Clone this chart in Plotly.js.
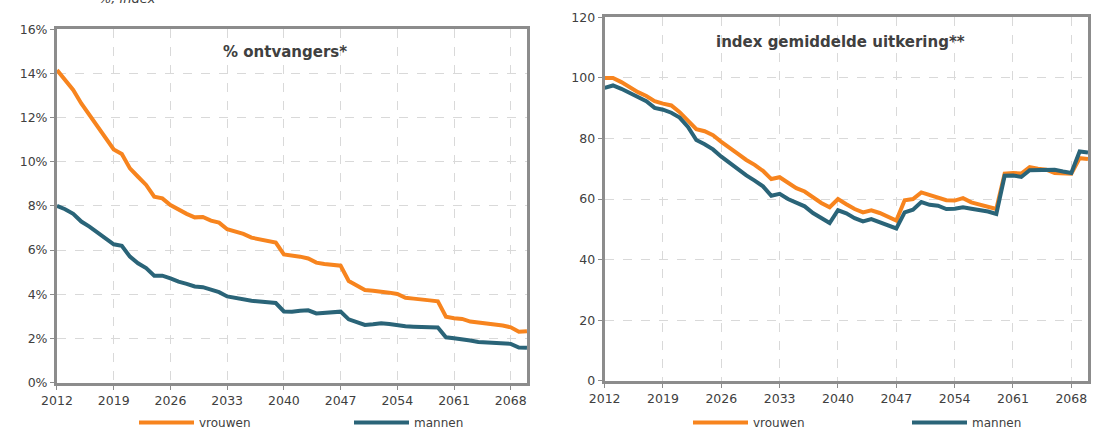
<!DOCTYPE html>
<html>
<head>
<meta charset="utf-8">
<script src="https://cdn.plot.ly/plotly-3.0.1.min.js"></script>
<style>html,body{margin:0;padding:0;background:#fff;}#chart{width:1094px;height:437px;}</style>
</head>
<body>
<div id="chart"></div>
<script>
// Years 2012..2070
var years = [];
for (var yr = 2012; yr <= 2070; yr++) years.push(yr);

var tickYears = [2012, 2019, 2026, 2033, 2040, 2047, 2054, 2061, 2068];

// % ontvangers*
var ontvVrouwen = [14.15, 13.7, 13.25, 12.64, 12.1, 11.6, 11.06, 10.56, 10.35, 9.7,
  9.32, 8.95, 8.42, 8.34, 8.04, 7.82, 7.64, 7.48, 7.5, 7.33,
  7.24, 6.94, 6.84, 6.73, 6.56, 6.49, 6.41, 6.34, 5.8, 5.77,
  5.7, 5.62, 5.43, 5.37, 5.35, 5.29, 4.6, 4.42, 4.19, 4.16,
  4.13, 4.07, 4.01, 3.84, 3.8, 3.74, 3.72, 3.68, 2.98, 2.91,
  2.88, 2.76, 2.72, 2.65, 2.6, 2.58, 2.5, 2.3, 2.32];
var ontvMannen = [8.0, 7.85, 7.64, 7.29, 7.06, 6.79, 6.5, 6.26, 6.19, 5.7,
  5.4, 5.18, 4.84, 4.84, 4.72, 4.57, 4.47, 4.35, 4.32, 4.2,
  4.09, 3.9, 3.82, 3.77, 3.7, 3.67, 3.62, 3.6, 3.22, 3.21,
  3.25, 3.27, 3.13, 3.16, 3.16, 3.21, 2.86, 2.73, 2.61, 2.64,
  2.68, 2.65, 2.59, 2.55, 2.53, 2.5, 2.5, 2.49, 2.05, 2.0,
  1.97, 1.9, 1.84, 1.81, 1.78, 1.76, 1.75, 1.58, 1.57];

// index gemiddelde uitkering**
var indexVrouwen = [100, 100, 98.6, 96.9, 95.3, 94.0, 92.3, 91.5, 90.9, 88.7,
  86.0, 83.1, 82.4, 81.1, 78.9, 76.7, 74.9, 72.9, 71.3, 69.3,
  66.6, 67.2, 65.5, 63.6, 62.5, 60.5, 58.7, 57.3, 60.0, 58.3,
  56.7, 55.6, 56.3, 55.4, 54.1, 52.9, 59.6, 60.0, 62.2, 61.4,
  60.5, 59.6, 59.5, 60.3, 58.9, 58.1, 57.6, 56.7, 68.4, 68.6,
  68.4, 70.5, 70.0, 69.7, 68.6, 68.4, 68.4, 73.5, 73.2];
var indexMannen = [96.7, 97.5, 96.4, 95.1, 93.7, 92.3, 90.1, 89.5, 88.5, 86.9,
  83.8, 79.5, 78.1, 76.4, 74.0, 71.8, 69.6, 67.8, 66.1, 64.2,
  61.1, 61.7, 60.0, 58.7, 57.6, 55.4, 53.8, 52.1, 56.3, 55.3,
  53.7, 52.6, 53.4, 52.4, 51.4, 50.3, 55.6, 56.5, 59.0, 58.1,
  57.8, 56.7, 56.8, 57.3, 56.8, 56.5, 55.9, 55.1, 67.7, 67.8,
  67.3, 69.5, 69.5, 69.7, 69.7, 69.1, 68.6, 75.7, 75.4];

var leftTickVals = [0, 2, 4, 6, 8, 10, 12, 14, 16];
var leftTickText = ['0%', '2%', '4%', '6%', '8%', '10%', '12%', '14%', '16%'];

var seriesNames = ['vrouwen', 'mannen'];
var colOrange = '#f7841e';
var colBlue = '#2a6478';
var fontFam = '"DejaVu Sans", Verdana, sans-serif';
var txtCol = '#404040';

var traces = [
  {x: years, y: ontvVrouwen, name: seriesNames[0], type: 'scatter', mode: 'lines',
   line: {color: colOrange, width: 4}, xaxis: 'x', yaxis: 'y', legend: 'legend'},
  {x: years, y: ontvMannen, name: seriesNames[1], type: 'scatter', mode: 'lines',
   line: {color: colBlue, width: 4}, xaxis: 'x', yaxis: 'y', legend: 'legend2'},
  {x: years, y: indexVrouwen, name: seriesNames[0], type: 'scatter', mode: 'lines',
   line: {color: colOrange, width: 4}, xaxis: 'x2', yaxis: 'y2', legend: 'legend3'},
  {x: years, y: indexMannen, name: seriesNames[1], type: 'scatter', mode: 'lines',
   line: {color: colBlue, width: 4}, xaxis: 'x2', yaxis: 'y2', legend: 'legend4'}
];

function xAx(domain, anchor) {
  return {
    domain: domain, anchor: anchor, range: [2012, 2070],
    tickvals: tickYears, ticktext: tickYears.map(String),
    showline: true, linecolor: '#8c8c8c', linewidth: 3, mirror: true,
    ticks: 'outside', ticklen: 4, tickcolor: '#8c8c8c', tickwidth: 1,
    showgrid: true, gridcolor: '#d9d9d9', griddash: 'dash', gridwidth: 1,
    zeroline: false,
    tickfont: {family: fontFam, size: 12.5, color: txtCol}
  };
}
function yAx(domain, anchor) {
  return {
    domain: domain, anchor: anchor,
    showline: true, linecolor: '#8c8c8c', linewidth: 3, mirror: true,
    ticks: 'outside', ticklen: 4, tickcolor: '#8c8c8c', tickwidth: 1,
    showgrid: true, gridcolor: '#d9d9d9', griddash: 'dash', gridwidth: 1,
    zeroline: false,
    tickfont: {family: fontFam, size: 12.5, color: txtCol}
  };
}

var xa1 = xAx([0.0521, 0.4817], 'y');
var ya1 = yAx([0.1247, 0.933], 'x');
ya1.range = [0, 16]; ya1.tickvals = leftTickVals; ya1.ticktext = leftTickText;
var xa2 = xAx([0.5527, 0.9945], 'y2');
var ya2 = yAx([0.1286, 0.9604], 'x2');
ya2.range = [0, 120]; ya2.dtick = 20; ya2.tick0 = 0;

function mkLegend(xpx) {
  return {
    orientation: 'h', yanchor: 'bottom', xanchor: 'left',
    x: xpx / 1094, y: 0,
    font: {family: fontFam, size: 12, color: txtCol},
    bgcolor: 'rgba(0,0,0,0)', itemwidth: 55, borderwidth: 0
  };
}

var layout = {
  width: 1094, height: 437,
  margin: {l: 0, r: 0, t: 0, b: 0},
  paper_bgcolor: '#ffffff', plot_bgcolor: '#ffffff',
  showlegend: true,
  legend: mkLegend(134), legend2: mkLegend(349),
  legend3: mkLegend(688), legend4: mkLegend(907),
  xaxis: xa1, yaxis: ya1, xaxis2: xa2, yaxis2: ya2,
  annotations: [
    {text: '<b>% ontvangers*</b>', xref: 'paper', yref: 'paper', x: 0.2605, y: 0.881,
     xanchor: 'center', yanchor: 'middle', showarrow: false,
     font: {family: fontFam, size: 15, color: txtCol}},
    {text: '<b>index gemiddelde uitkering**</b>', xref: 'paper', yref: 'paper', x: 0.768, y: 0.904,
     xanchor: 'center', yanchor: 'middle', showarrow: false,
     font: {family: fontFam, size: 15, color: txtCol}},
    {text: '<i>%, index</i>', xref: 'paper', yref: 'paper', x: 0.1165, y: 1.004,
     xanchor: 'center', yanchor: 'middle', showarrow: false,
     font: {family: fontFam, size: 13, color: txtCol}}
  ]
};

Plotly.newPlot('chart', traces, layout, {displayModeBar: false, staticPlot: true});
</script>
</body>
</html>
